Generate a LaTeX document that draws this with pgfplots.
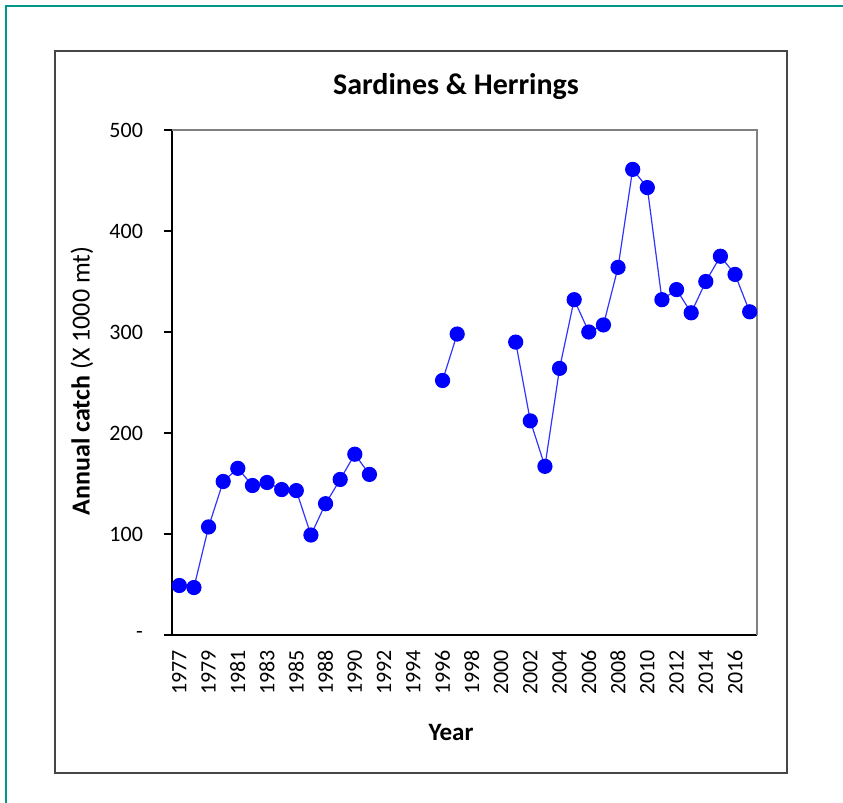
\documentclass[border=0pt]{standalone}
\usepackage{pgfplots}
\pgfplotsset{compat=1.18}
\usepackage{fontspec}
\setmainfont{Carlito}

\definecolor{frameteal}{RGB}{0,150,136}
\definecolor{boxgray}{RGB}{70,70,70}
\definecolor{ptblue}{RGB}{0,0,255}

% catch by category index (0 = 1977 ... 39 = 2017), nan = no data
\pgfplotstableread{
idx catch
0 49
1 47
2 107
3 152
4 165
5 148
6 151
7 144
8 143
9 99
10 130
11 154
12 179
13 159
14 nan
15 nan
16 nan
17 nan
18 252
19 298
20 nan
21 nan
22 nan
23 290
24 212
25 167
26 264
27 332
28 300
29 307
30 364
31 461
32 443
33 332
34 342
35 319
36 350
37 375
38 357
39 320
}\catchdata

\begin{document}
\begin{tikzpicture}
\useasboundingbox (0,0) rectangle (421.5pt,-401.5pt);
\draw[frameteal, line width=1pt] (3pt,-410pt) -- (3pt,-3pt) -- (430pt,-3pt);
\draw[boxgray, line width=0.8pt] (27.5pt,-25.5pt) rectangle (393.5pt,-386.5pt);

\begin{axis}[
  at={(86pt,-317.5pt)}, anchor=south west,
  width=292.5pt, height=252.5pt, scale only axis,
  xmin=-0.5, xmax=39.5, ymin=0, ymax=500,
  axis lines=left, axis line style={-, black, line width=0.6pt},
  tick align=outside,
  major tick length=4pt, minor tick length=4pt,
  xtick={0,2,...,38},
  xticklabels={1977,1979,1981,1983,1985,1988,1990,1992,1994,1996,1998,2000,2002,2004,2006,2008,2010,2012,2014,2016},
  minor xtick={-0.5,0.5,...,39.5},
  xtick style={draw=none},
  minor tick style={black, line width=0.6pt},
  xticklabel style={rotate=90, anchor=east, font=\fontsize{11}{13}\selectfont},
  ytick={0,100,...,500},
  yticklabels={-,100,200,300,400,500},
  ytick style={black, line width=0.6pt},
  yticklabel style={xshift=-7pt, font=\fontsize{11}{13}\selectfont},
  /pgf/number format/assume math mode=true,
  unbounded coords=jump,
  clip=false,
]
\draw[gray, line width=0.6pt] (rel axis cs:0,1) -- (rel axis cs:1,1) -- (rel axis cs:1,0);
\addplot[color=ptblue!80, line width=0.6pt, mark=*, mark size=3.5pt,
  mark options={draw=ptblue, fill=ptblue}] table[x=idx, y=catch] {\catchdata};

\node[font=\fontsize{15}{18}\selectfont\bfseries] at (rel axis cs:0.4855,1.087) {Sardines \& Herrings};
\node[font=\fontsize{12.5}{15}\selectfont\bfseries] at (rel axis cs:0.477,-0.194) {Year};
\node[rotate=90, font=\fontsize{13}{15}\selectfont] at (rel axis cs:-0.1538,0.503) {\textbf{Annual catch} (X 1000 mt)};
\end{axis}
\end{tikzpicture}
\end{document}
